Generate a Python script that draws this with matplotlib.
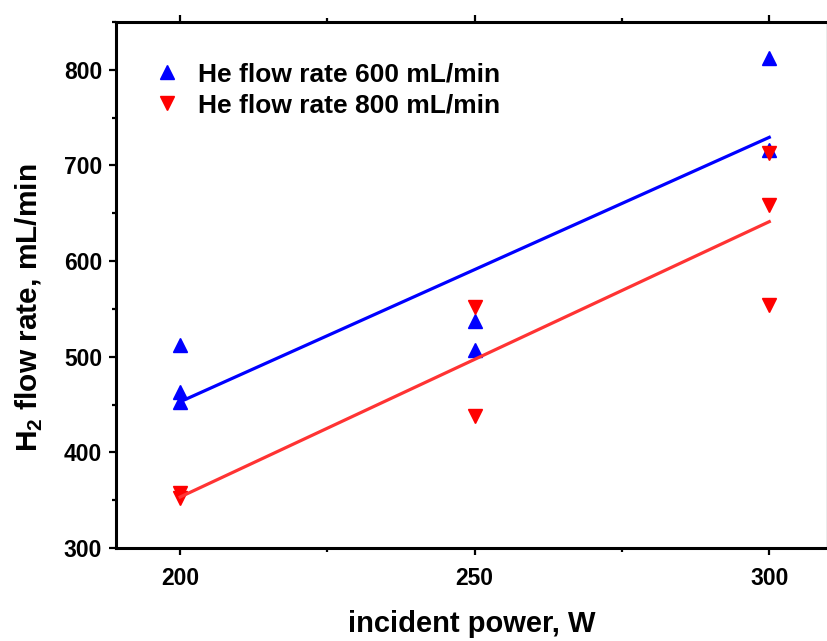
import numpy as np
import matplotlib
matplotlib.use("Agg")
import matplotlib.pyplot as plt
from matplotlib.ticker import MultipleLocator

plt.rcParams['font.family'] = ['Liberation Sans', 'DejaVu Sans']
plt.rcParams['font.weight'] = 'bold'
plt.rcParams['mathtext.fontset'] = 'custom'
plt.rcParams['mathtext.rm'] = 'Liberation Sans:bold'
plt.rcParams['mathtext.bf'] = 'Liberation Sans:bold'

# data
power_600 = [200, 200, 200, 250, 250, 300, 300]
h2_600 = [512, 463, 453, 537, 507, 812, 716]
power_800 = [200, 200, 250, 250, 300, 300, 300]
h2_800 = [357, 352, 552, 438, 713, 659, 554]
label_600 = "He flow rate 600 mL/min"
label_800 = "He flow rate 800 mL/min"
xticks = [200, 250, 300]
yticks = [300, 400, 500, 600, 700, 800]

fig = plt.figure(figsize=(8.28, 6.41), dpi=100)
ax = fig.add_axes([116/828, 93/641, (827-116)/828, (548-22)/641])

fit_x = np.array([200, 300])
c6 = np.polyfit(power_600, h2_600, 1)
c8 = np.polyfit(power_800, h2_800, 1)

ax.plot(power_600, h2_600, linestyle='none', marker='^', color='#0000ff', markersize=9.5, label=label_600, zorder=3)
ax.plot(power_800, h2_800, linestyle='none', marker='v', color='#ff0000', markersize=9.5, label=label_800, zorder=3)
ax.plot(fit_x, np.polyval(c6, fit_x), color='#0000ff', linewidth=2.3, zorder=4)
ax.plot(fit_x, np.polyval(c8, fit_x), color='#ff3333', linewidth=2.3, zorder=4)

ax.set_xlim(189.1, 309.8)
ax.set_ylim(300, 850)
ax.set_xticks(xticks)
ax.set_yticks(yticks)
ax.xaxis.set_minor_locator(MultipleLocator(25))
ax.yaxis.set_minor_locator(MultipleLocator(50))

for s in ['left', 'bottom', 'top']:
    ax.spines[s].set_linewidth(2.2)
    ax.spines[s].set_color('black')
ax.spines['right'].set_linewidth(1.0)
ax.spines['right'].set_color('#999999')

ax.tick_params(which='major', direction='out', length=5, width=1.6, labelsize=16.5, pad=5)
ax.tick_params(which='minor', direction='out', length=3, width=1.6)
ax.tick_params(axis='x', which='both', top=True, labeltop=False)
ax.tick_params(axis='y', which='both', right=False)
ax.tick_params(axis='x', which='major', pad=9)

ax.set_xlabel("incident power, W", fontsize=21, fontweight='bold', labelpad=14)
ax.set_ylabel("H$_{\\mathbf{2}}$ flow rate, mL/min", fontsize=21.5, fontweight='bold')
ax.yaxis.set_label_coords(-0.1, 0.456)

ax.legend(loc='upper left', bbox_to_anchor=(0.0445, 0.943), frameon=False, fontsize=19,
          handlelength=0.7, handletextpad=0.82, labelspacing=0.26, borderaxespad=0)

fig.savefig("out.png", dpi=100)
